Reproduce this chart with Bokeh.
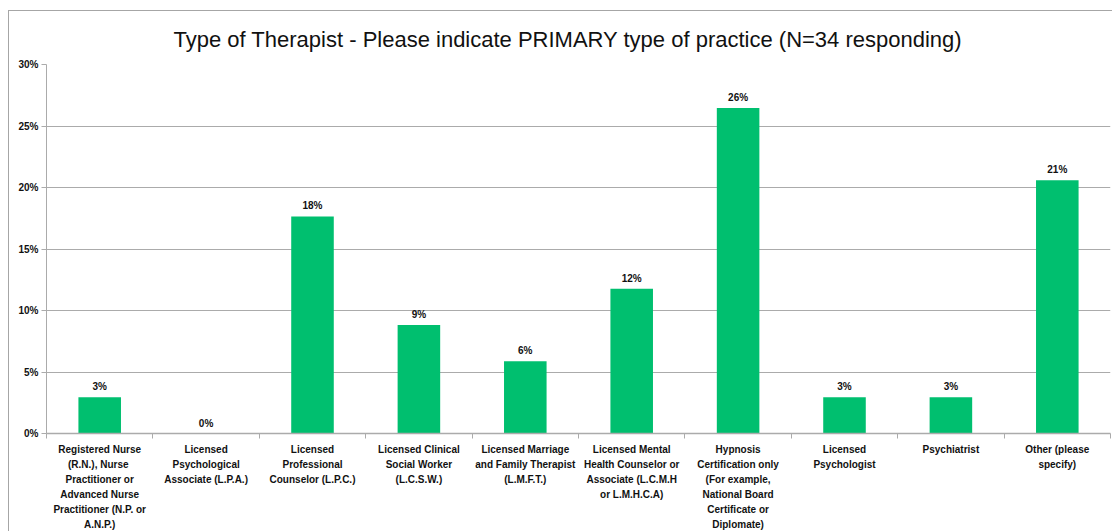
from bokeh.plotting import figure
from bokeh.models import (ColumnDataSource, FixedTicker, NumeralTickFormatter,
                          Range1d, LabelSet)
from bokeh.core.properties import value
from bokeh.embed import file_html
from bokeh.resources import INLINE

# Survey responses: primary type of practice (share of 34 respondents)
categories = [
    "Registered Nurse\n(R.N.),  Nurse\nPractitioner or\nAdvanced Nurse\nPractitioner (N.P. or\nA.N.P.)",
    "Licensed\nPsychological\nAssociate (L.P.A.)",
    "Licensed\nProfessional\nCounselor (L.P.C.)",
    "Licensed Clinical\nSocial Worker\n(L.C.S.W.)",
    "Licensed Marriage\nand Family Therapist\n(L.M.F.T.)",
    "Licensed Mental\nHealth Counselor or\nAssociate (L.C.M.H\nor L.M.H.C.A)",
    "Hypnosis\nCertification only\n(For example,\nNational Board\nCertificate or\nDiplomate)",
    "Licensed\nPsychologist",
    "Psychiatrist",
    "Other (please\nspecify)",
]
shares = [0.0294, 0.0, 0.1765, 0.0882, 0.0588, 0.1176, 0.2647, 0.0294, 0.0294, 0.2059]
y_ticks = [0.0, 0.05, 0.10, 0.15, 0.20, 0.25, 0.30]

TITLE = "Type of Therapist - Please indicate PRIMARY type of practice (N=34 responding)"
GREEN = "#00BF6F"
GRID = "#ababab"
FONT = "Liberation Sans"

n = len(categories)
centers = [i + 0.5 for i in range(n)]
labels = ["%d%%" % round(v * 100) for v in shares]

src = ColumnDataSource(dict(x=centers, top=shares, label=labels))

FW, FH = 1064, 369
p = figure(frame_width=FW, frame_height=FH, output_backend="svg", toolbar_location=None,
           x_range=Range1d(0, n), y_range=Range1d(0, 0.30),
           min_border_left=37, min_border_right=2,
           min_border_top=53, min_border_bottom=90)
p.margin = (10, 0, 0, 8)
p.styles = {"border-left": "1px solid #a6a6a6", "border-top": "1px solid #a6a6a6"}
p.outline_line_color = None
p.background_fill_color = "white"
p.border_fill_color = "white"

# heading
p.title.text = TITLE
p.title.align = "left"
p.title.offset = 127
p.title.standoff = 26
p.title.text_font = FONT
p.title.text_font_size = "22px"
p.title.text_font_style = "normal"
p.title.text_color = "#111111"

p.vbar(x="x", top="top", width=0.4, source=src, color=GREEN, line_color=None)

p.add_layout(LabelSet(x="x", y="top", text="label", source=src,
                      text_align="center", text_baseline="bottom", y_offset=5,
                      text_font=value(FONT), text_font_style="bold",
                      text_font_size="10px", text_color="#111111"))

# y axis
p.yaxis.ticker = FixedTicker(ticks=y_ticks)
p.yaxis.formatter = NumeralTickFormatter(format="0%")
p.yaxis.axis_line_color = GRID
p.yaxis.major_tick_line_color = GRID
p.yaxis.major_tick_out = 5
p.yaxis.major_tick_in = 0
p.yaxis.minor_tick_line_color = None
p.yaxis.major_label_standoff = 3
p.yaxis.major_label_text_font = FONT
p.yaxis.major_label_text_font_style = "bold"
p.yaxis.major_label_text_font_size = "10px"
p.yaxis.major_label_text_color = "#111111"

# x axis: labels at category centers, tick marks at category boundaries
p.xaxis.ticker = FixedTicker(ticks=centers, minor_ticks=list(range(n + 1)))
p.xaxis.major_label_overrides = {c: lab for c, lab in zip(centers, categories)}
p.xaxis.axis_line_color = GRID
p.xaxis.axis_line_width = 1.5
p.xaxis.major_tick_line_color = None
p.xaxis.major_tick_out = 0
p.xaxis.major_tick_in = 0
p.xaxis.minor_tick_line_color = GRID
p.xaxis.minor_tick_out = 5
p.xaxis.minor_tick_in = 0
p.xaxis.major_label_standoff = 5
p.xaxis.major_label_text_font = FONT
p.xaxis.major_label_text_font_style = "bold"
p.xaxis.major_label_text_font_size = "10px"
p.xaxis.major_label_text_line_height = 1.37
p.xaxis.major_label_text_color = "#111111"

p.xgrid.grid_line_color = None
p.ygrid.grid_line_color = GRID
p.ygrid.grid_line_width = 1

open("out.html", "w").write(file_html(p, INLINE))
